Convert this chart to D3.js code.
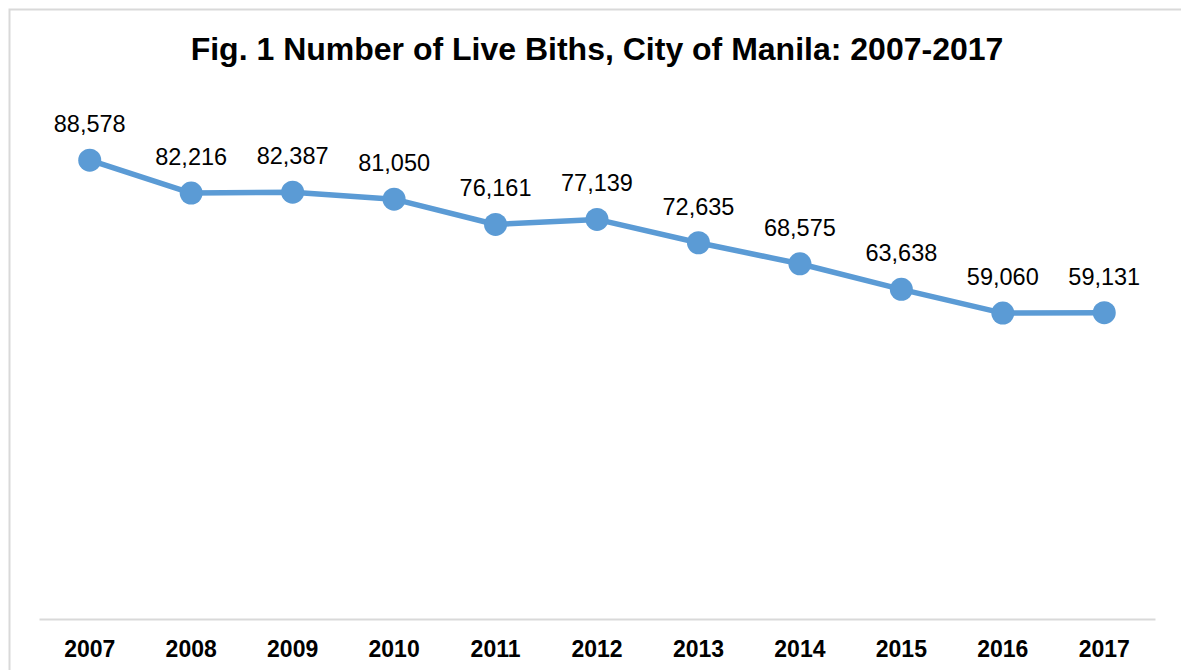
<!DOCTYPE html>
<html>
<head>
<meta charset="utf-8">
<script src="https://cdn.jsdelivr.net/npm/d3@7"></script>
<style>
  body { margin: 0; background: #fff; }
  text { font-family: "Liberation Sans", Arial, sans-serif; }
</style>
</head>
<body>
<div id="chart"></div>
<script>
// Data
const years = ["2007", "2008", "2009", "2010", "2011", "2012", "2013", "2014", "2015", "2016", "2017"];
const births = [88578, 82216, 82387, 81050, 76161, 77139, 72635, 68575, 63638, 59060, 59131];

const width = 1181;
const height = 670;
const margin = { top: 101, right: 26, bottom: 51, left: 39 };
const innerWidth = width - margin.left - margin.right;
const innerHeight = height - margin.top - margin.bottom;
const lineColor = "#5b9bd5";

const svg = d3.select("#chart")
  .append("svg")
  .attr("width", width)
  .attr("height", height);

// outer chart border (cropped at right/bottom like the picture)
svg.append("rect")
  .attr("x", 9.5)
  .attr("y", 9.5)
  .attr("width", width + 20)
  .attr("height", height + 20)
  .attr("fill", "none")
  .attr("stroke", "#d9d9d9")
  .attr("stroke-width", 2);

svg.append("text")
  .text("Fig. 1 Number of Live Biths, City of Manila: 2007-2017")
  .attr("x", 597)
  .attr("y", 60)
  .attr("text-anchor", "middle")
  .attr("font-size", 32)
  .attr("font-weight", "bold");

const xScale = d3.scaleBand()
  .domain(years)
  .range([0, innerWidth]);

const yScale = d3.scaleLinear()
  .domain([0, 100000])
  .range([innerHeight, 0]);

const inner = svg.append("g")
  .attr("transform", `translate(${margin.left}, ${margin.top})`);

// x axis: plain line + bold year labels
const bottomAxis = d3.axisBottom(xScale).tickSize(0).tickPadding(22);
const xAxis = inner.append("g")
  .attr("transform", `translate(0, ${innerHeight})`)
  .call(bottomAxis);
xAxis.select(".domain").attr("stroke", "#d9d9d9").attr("stroke-width", 2);
xAxis.selectAll("text")
  .attr("font-size", 23)
  .attr("font-weight", "bold")
  .attr("fill", "#000")
  .attr("font-family", "Liberation Sans, Arial, sans-serif");

const cx = (d, i) => xScale(years[i]) + xScale.bandwidth() / 2;

const line = d3.line()
  .x((d, i) => cx(d, i))
  .y(d => yScale(d));

inner.append("path")
  .datum(births)
  .attr("d", line)
  .attr("fill", "none")
  .attr("stroke", lineColor)
  .attr("stroke-width", 5.5)
  .attr("stroke-linejoin", "round");

inner.selectAll("circle")
  .data(births)
  .join("circle")
    .attr("cx", cx)
    .attr("cy", d => yScale(d))
    .attr("r", 11.5)
    .attr("fill", lineColor);

inner.selectAll("text.label")
  .data(births)
  .join("text")
    .attr("class", "label")
    .attr("x", cx)
    .attr("y", d => yScale(d) - 28)
    .attr("text-anchor", "middle")
    .attr("font-size", 23.5)
    .attr("fill", "#000")
    .text(d => d3.format(",")(d));
</script>
</body>
</html>
